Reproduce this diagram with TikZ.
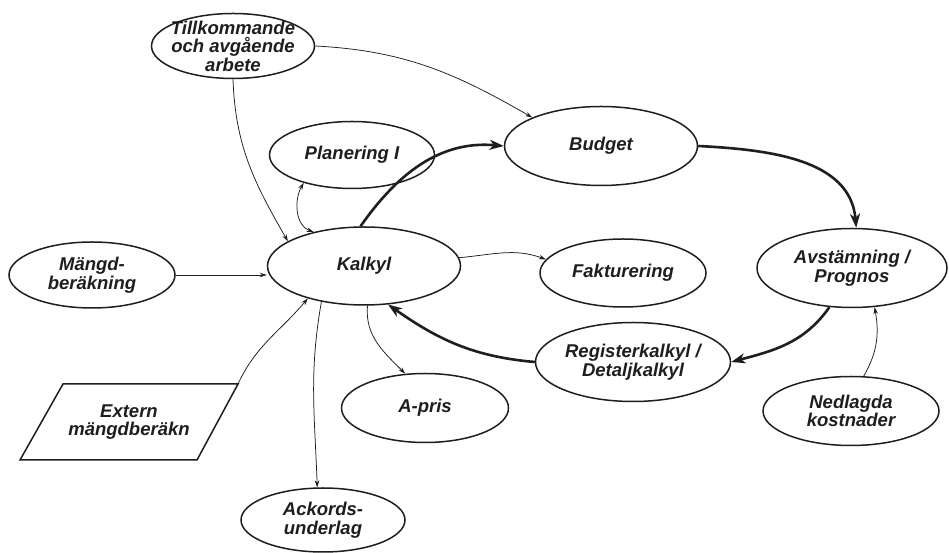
\documentclass[tikz,border=0pt]{standalone}
\usepackage{fontspec}
\setmainfont{Liberation Sans}
\usepackage{xcolor}
\definecolor{inkDark}{HTML}{1E1E1E}
\usetikzlibrary{arrows.meta,shapes.geometric}
\tikzset{%
  stageEllipse/.style={%
    ellipse,
    draw=inkDark,
    line width=1.5pt,
    inner sep=0pt,
    align=center,
    text=inkDark,
    font=\bfseries\itshape\fontsize{18.5}{18.5}\selectfont
  },
  inputText/.style={%
    inner sep=0pt,
    align=center,
    text=inkDark,
    font=\bfseries\itshape\fontsize{18.5}{18.5}\selectfont
  },
  inputOutline/.style={%
    draw=inkDark,
    line width=1.5pt,
    line join=miter
  },
  thinArrow/.style={%
    -{Stealth[length=7pt,width=4.5pt]},
    line width=0.75pt,
    color=inkDark
  },
  thickArrow/.style={%
    -{Stealth[length=14pt,width=10pt,inset=4pt]},
    line width=2.6pt,
    color=inkDark
  }
}
\begin{document}
\begin{tikzpicture}[x=1pt,y=1pt]
  \fill[white] (0,0) rectangle (949,553);
  \useasboundingbox (0,0) rectangle (949,553);

  % nodes
  \node[stageEllipse, inner sep=-9pt, minimum width=163pt, minimum height=65pt] (till) at (233,507) {Tillkommande\\och avgående\\arbete};
  \node[stageEllipse, minimum width=193pt, minimum height=79pt] (budget) at (601,407) {Budget};
  \node[stageEllipse, minimum width=165pt, minimum height=67pt] (plan) at (352,398) {Planering I};
  \node[stageEllipse, minimum width=193pt, minimum height=78pt] (kalkyl) at (364,287) {Kalkyl};
  \node[stageEllipse, minimum width=166pt, minimum height=66pt] (mangd) at (92,278) {Mängd-\\beräkning};
  \node[stageEllipse, minimum width=166pt, minimum height=68pt] (faktura) at (623,280) {Fakturering};
  \node[stageEllipse, inner sep=-4pt, minimum width=190pt, minimum height=79pt] (avstam) at (852,285) {Avstämning /\\Prognos};
  \node[stageEllipse, inner sep=-4pt, minimum width=195pt, minimum height=79pt] (register) at (633,191) {Registerkalkyl /\\Detaljkalkyl};
  \node[stageEllipse, minimum width=167pt, minimum height=69pt] (apris) at (425,145) {A-pris};
  \node[stageEllipse, minimum width=176pt, minimum height=69pt] (nedlagda) at (851,142) {Nedlagda\\kostnader};
  \node[stageEllipse, minimum width=164pt, minimum height=64pt] (ackord) at (323,33) {Ackords-\\underlag};

  % external input, drawn as a slanted box
  \draw[inputOutline] (20,93) -- (197,93) -- (238,169) coordinate (externCorner) -- (63,169) -- cycle;
  \node[inputText] (extern) at (129,131) {Extern\\mängdberäkn};

  % main cycle
  \draw[thickArrow] (kalkyl.95) to[out=55, in=175] (budget.west);
  \draw[thickArrow] (budget.east) to[out=-3, in=95] (avstam.84);
  \draw[thickArrow] (avstam.240) to[out=235, in=15] (register.east);
  \draw[thickArrow] (register.west) to[out=175, in=-35] (kalkyl.-58);

  % inputs and outputs
  \draw[thinArrow] (till.east) to[out=-3, in=150] (budget.north west);
  \draw[thinArrow] (till.south) to[out=-88, in=120] (kalkyl.162);
  \draw[thinArrow, {Stealth[length=7pt,width=4.5pt]}-{Stealth[length=7pt,width=4.5pt]}] (plan.210) to[out=240, in=160] (kalkyl.146);
  \draw[thinArrow] (mangd.east) -- (kalkyl.west |- mangd.east);
  \draw[thinArrow] (externCorner) to[out=65, in=-130] (kalkyl.-150);
  \draw[thinArrow] (kalkyl.5) to[out=5, in=160] (faktura.170);
  \draw[thinArrow] (kalkyl.-85) to[out=-95, in=135] (apris.120);
  \draw[thinArrow] (kalkyl.-140) to[out=-100, in=92] (ackord.100);
  \draw[thinArrow] (nedlagda.70) to[out=60, in=-80] (avstam.-60);
\end{tikzpicture}
\end{document}
